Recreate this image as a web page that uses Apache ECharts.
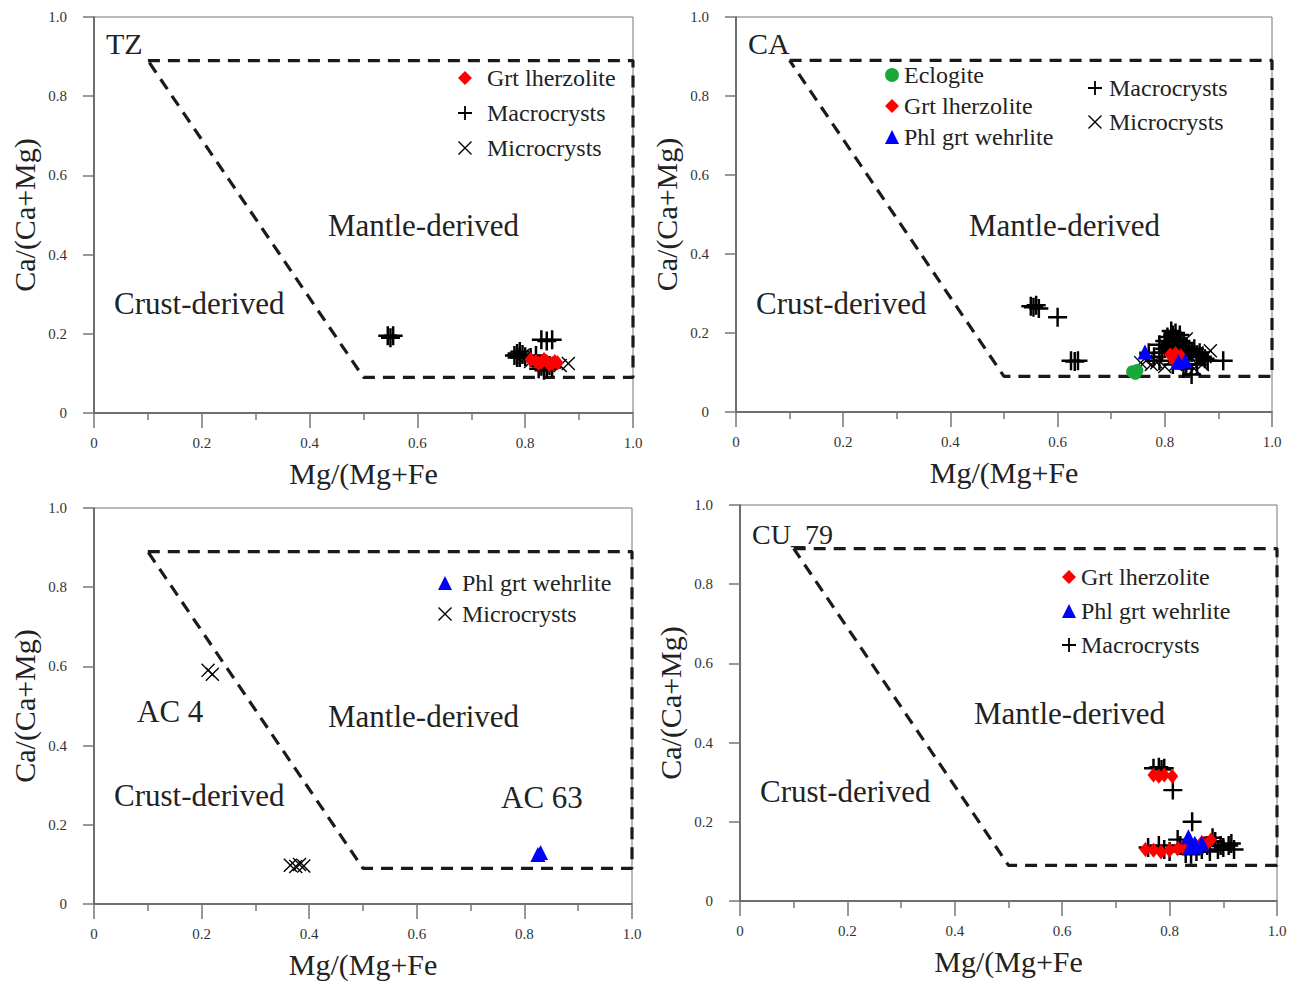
<!DOCTYPE html>
<html>
<head>
<meta charset="utf-8">
<script src="https://cdn.jsdelivr.net/npm/echarts@6/dist/echarts.min.js"></script>
<style>
  html, body { margin: 0; padding: 0; background: #fff; }
  #chart { width: 1297px; height: 981px; }
</style>
</head>
<body>
<div id="chart"></div>
<script>
// boundary between mantle- and crust-derived fields (same in every panel)
const boundary = [[0.1, 0.89], [1.0, 0.89], [1.0, 0.09], [0.5, 0.09], [0.1, 0.89]];
const tickValues = [0, 0.2, 0.4, 0.6, 0.8, 1.0];

// TZ
const tzGrt = [[0.81, 0.135], [0.82, 0.13], [0.83, 0.128], [0.84, 0.13], [0.85, 0.125], [0.86, 0.127], [0.835, 0.135], [0.845, 0.122], [0.855, 0.13], [0.825, 0.125]];
const tzMacro = [[0.545, 0.195], [0.55, 0.19], [0.555, 0.195], [0.83, 0.185], [0.84, 0.182], [0.85, 0.185], [0.78, 0.145], [0.785, 0.15], [0.79, 0.14], [0.795, 0.148], [0.8, 0.142], [0.79, 0.155], [0.785, 0.14], [0.81, 0.14], [0.82, 0.145], [0.83, 0.118], [0.84, 0.112], [0.85, 0.115], [0.835, 0.108], [0.845, 0.12], [0.825, 0.112]];
const tzMicro = [[0.88, 0.125], [0.865, 0.12], [0.8, 0.14], [0.81, 0.13], [0.795, 0.145]];

// CA
const caEclogite = [[0.74, 0.102], [0.748, 0.105], [0.745, 0.098]];
const caGrt = [[0.81, 0.145], [0.815, 0.14], [0.82, 0.148], [0.825, 0.135], [0.83, 0.142], [0.818, 0.13]];
const caPhl = [[0.763, 0.152], [0.825, 0.128], [0.838, 0.13]];
const caMacro = [[0.55, 0.268], [0.555, 0.265], [0.56, 0.27], [0.565, 0.262], [0.6, 0.24], [0.625, 0.13], [0.632, 0.128], [0.638, 0.13], [0.79, 0.17], [0.8, 0.18], [0.805, 0.19], [0.81, 0.175], [0.815, 0.195], [0.82, 0.185], [0.825, 0.17], [0.83, 0.18], [0.8, 0.16], [0.81, 0.155], [0.84, 0.165], [0.85, 0.15], [0.86, 0.145], [0.87, 0.14], [0.88, 0.13], [0.909, 0.13], [0.85, 0.095], [0.84, 0.12], [0.78, 0.14], [0.82, 0.2], [0.812, 0.205], [0.828, 0.195], [0.835, 0.175], [0.805, 0.165], [0.795, 0.15], [0.845, 0.155], [0.855, 0.16], [0.865, 0.15], [0.875, 0.135], [0.86, 0.12], [0.835, 0.11], [0.815, 0.12], [0.79, 0.13], [0.77, 0.15]];
const caMicro = [[0.755, 0.125], [0.765, 0.13], [0.775, 0.12], [0.785, 0.125], [0.8, 0.17], [0.83, 0.16], [0.845, 0.145], [0.86, 0.15], [0.875, 0.14], [0.885, 0.155], [0.87, 0.12], [0.855, 0.11], [0.82, 0.12], [0.81, 0.19], [0.84, 0.185], [0.85, 0.135], [0.8, 0.115]];

// AC
const acPhl = [[0.825, 0.125], [0.83, 0.13]];
const acMicro = [[0.212, 0.59], [0.22, 0.58], [0.365, 0.098], [0.375, 0.095], [0.382, 0.1], [0.39, 0.096]];

// CU_79
const cuGrt = [[0.77, 0.318], [0.78, 0.315], [0.79, 0.318], [0.805, 0.315], [0.755, 0.13], [0.77, 0.128], [0.784, 0.124], [0.8, 0.128], [0.815, 0.132], [0.825, 0.135], [0.86, 0.148], [0.877, 0.154], [0.87, 0.145]];
const cuPhl = [[0.835, 0.162], [0.847, 0.146], [0.86, 0.146], [0.838, 0.136], [0.85, 0.138]];
const cuMacro = [[0.77, 0.335], [0.78, 0.338], [0.785, 0.332], [0.79, 0.335], [0.806, 0.28], [0.842, 0.2], [0.76, 0.135], [0.78, 0.14], [0.79, 0.13], [0.8, 0.125], [0.815, 0.155], [0.82, 0.14], [0.83, 0.12], [0.84, 0.118], [0.85, 0.125], [0.86, 0.13], [0.87, 0.14], [0.88, 0.16], [0.885, 0.15], [0.895, 0.14], [0.9, 0.135], [0.91, 0.14], [0.92, 0.13], [0.915, 0.145], [0.875, 0.125], [0.89, 0.13]];

const SERIF = '"Liberation Serif", "DejaVu Serif", serif';
const PLUS = 'path://M0,8.7H20V11.3H0Z M8.7,0H11.3V20H8.7Z';
const CROSS = 'path://M1.4,0L10,8.6L18.6,0L20,1.4L11.4,10L20,18.6L18.6,20L10,11.4L1.4,20L0,18.6L8.6,10L0,1.4Z';

const marker = {
  'Eclogite': { symbol: 'circle', symbolSize: 13, color: '#1aa83a' },
  'Grt lherzolite': { symbol: 'diamond', symbolSize: [12, 15], color: '#ff0000' },
  'Phl grt wehrlite': { symbol: 'triangle', symbolSize: 15, color: '#0000ff' },
  'Macrocrysts': { symbol: PLUS, symbolSize: 19, color: '#000' },
  'Microcrysts': { symbol: CROSS, symbolSize: 14, color: '#000' }
};

const grids = [
  { left: 94, top: 17, width: 539, height: 396 },
  { left: 736, top: 17, width: 536, height: 395 },
  { left: 94, top: 508, width: 538, height: 396 },
  { left: 740, top: 505, width: 537, height: 396 }
];

const panels = [
  { sets: [['Macrocrysts', tzMacro], ['Microcrysts', tzMicro], ['Grt lherzolite', tzGrt]] },
  { sets: [['Macrocrysts', caMacro], ['Microcrysts', caMicro], ['Eclogite', caEclogite], ['Grt lherzolite', caGrt], ['Phl grt wehrlite', caPhl]] },
  { sets: [['Microcrysts', acMicro], ['Phl grt wehrlite', acPhl]] },
  { sets: [['Macrocrysts', cuMacro], ['Grt lherzolite', cuGrt], ['Phl grt wehrlite', cuPhl]] }
];

const fmt = v => (v === 0 ? '0' : v.toFixed(1));
const axisLine = { lineStyle: { color: '#555', width: 1.5 } };

const xAxis = grids.map((g, i) => ({
  gridIndex: i, type: 'value', min: 0, max: 1, interval: 0.2,
  name: 'Mg/(Mg+Fe', nameLocation: 'middle', nameGap: 45,
  nameTextStyle: { fontFamily: SERIF, fontSize: 30, color: '#222' },
  axisLine: axisLine,
  axisTick: { length: 15, lineStyle: { color: '#777', width: 1.5 } },
  minorTick: { show: true, splitNumber: 2, length: 7, lineStyle: { color: '#777', width: 1.5 } },
  axisLabel: { margin: 22, formatter: fmt, fontFamily: SERIF, fontSize: 15, color: '#333' },
  splitLine: { show: false }
}));

const yAxis = grids.map((g, i) => ({
  gridIndex: i, type: 'value', min: 0, max: 1, interval: 0.2,
  name: 'Ca/(Ca+Mg)', nameLocation: 'middle', nameGap: 55,
  nameTextStyle: { fontFamily: SERIF, fontSize: 30, color: '#222' },
  axisLine: axisLine,
  axisTick: { length: 11, lineStyle: { color: '#777', width: 1.5 } },
  axisLabel: { margin: 27, formatter: fmt, fontFamily: SERIF, fontSize: 15, color: '#333' },
  splitLine: { show: false }
}));

const series = [];
panels.forEach((p, i) => {
  series.push({
    type: 'line', xAxisIndex: i, yAxisIndex: i, data: boundary,
    showSymbol: false, silent: true, z: 1,
    lineStyle: { color: '#1a1a1a', width: 3.2, type: [12, 8] }
  });
  p.sets.forEach(([name, data]) => {
    const m = marker[name];
    series.push({
      type: 'scatter', name: name, xAxisIndex: i, yAxisIndex: i, data: data,
      symbol: m.symbol, symbolSize: m.symbolSize, symbolKeepAspect: true,
      itemStyle: { color: m.color, opacity: 1 }, z: 3
    });
  });
});

function legend(left, top, gap, names, pad) {
  return {
    orient: 'vertical', left: left, top: top, itemGap: gap,
    itemWidth: 14, itemHeight: 14, selectedMode: false,
    data: names,
    textStyle: { fontFamily: SERIF, fontSize: 24, color: '#222', lineHeight: 24, padding: [0, 0, 0, pad] }
  };
}

function label(text, x, y, size) {
  return {
    type: 'text', left: x, top: y,
    style: { text: text, font: (size || 31) + 'px ' + SERIF, fill: '#222' }
  };
}

const chart = echarts.init(document.getElementById('chart'), null, { renderer: 'svg' });
chart.setOption({
  backgroundColor: '#fff',
  animation: false,
  grid: grids.map(g => Object.assign({ show: true, borderColor: '#777', borderWidth: 1 }, g)),
  xAxis: xAxis,
  yAxis: yAxis,
  legend: [
    legend(453, 61, 11, ['Grt lherzolite', 'Macrocrysts', 'Microcrysts'], 10),
    legend(880, 58, 7, ['Eclogite', 'Grt lherzolite', 'Phl grt wehrlite'], 0),
    legend(1083, 71, 10, ['Macrocrysts', 'Microcrysts'], 2),
    legend(433, 566, 7, ['Phl grt wehrlite', 'Microcrysts'], 5),
    legend(1057, 560, 10, ['Grt lherzolite', 'Phl grt wehrlite', 'Macrocrysts'], 0)
  ],
  graphic: [
    label('TZ', 106, 28, 30), label('CA', 748, 28, 30), label('CU_79', 752, 520, 28),
    label('Mantle-derived', 328, 210), label('Crust-derived', 114, 288),
    label('Mantle-derived', 969, 210), label('Crust-derived', 756, 288),
    label('Mantle-derived', 328, 701), label('Crust-derived', 114, 780),
    label('AC 4', 137, 696), label('AC 63', 501, 782),
    label('Mantle-derived', 974, 698), label('Crust-derived', 760, 776)
  ],
  series: series
});
</script>
</body>
</html>
